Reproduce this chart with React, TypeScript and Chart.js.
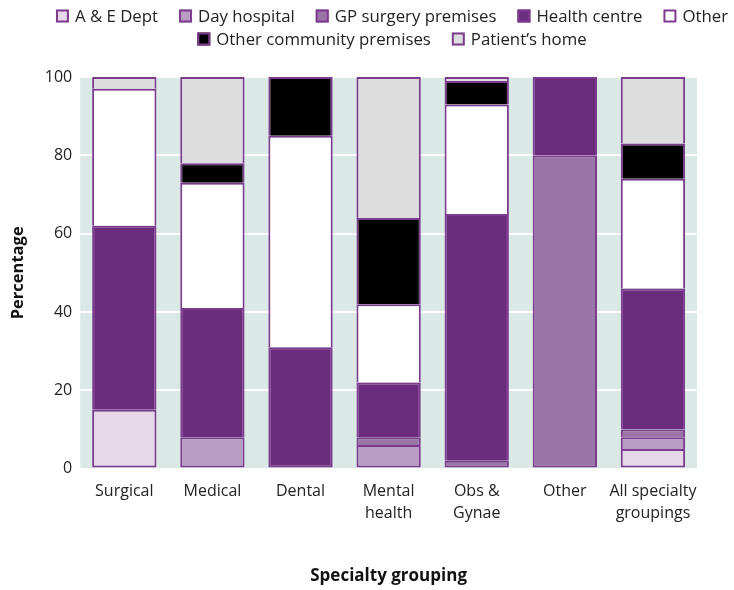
import React, { useEffect, useRef } from "react";
import { Chart, registerables } from "chart.js";

Chart.register(...registerables);

const categories: (string | string[])[] = [
  "Surgical",
  "Medical",
  "Dental",
  ["Mental", "health"],
  ["Obs &", "Gynae"],
  "Other",
  ["All specialty", "groupings"],
];

const seriesNames = [
  "A & E Dept",
  "Day hospital",
  "GP surgery premises",
  "Health centre",
  "Other",
  "Other community premises",
  "Patient\u2019s home",
];

const aeDept = [15, 0, 0, 0, 0, 0, 5];
const dayHospital = [0, 8, 0, 6, 0, 0, 3];
const gpSurgery = [0, 0, 0, 2, 2, 80, 2];
const healthCentre = [47, 33, 31, 14, 63, 20, 36];
const otherPlace = [35, 32, 54, 20, 28, 0, 28];
const otherCommunity = [0, 5, 15, 22, 6, 0, 9];
const patientsHome = [3, 22, 0, 36, 1, 0, 17];

const seriesValues = [aeDept, dayHospital, gpSurgery, healthCentre, otherPlace, otherCommunity, patientsHome];
const seriesColors = ["#e6d8e9", "#b99dc4", "#9b75a8", "#6c2c7d", "#ffffff", "#000000", "#dddddd"];
const legendRows = [[0, 1, 2, 3, 4], [5, 6]];

const yTicks = [0, 20, 40, 60, 80, 100];

const FONT = "'Open Sans', 'DejaVu Sans', sans-serif";
const BORDER = "#7d3b90";

const bgPlugin = {
  id: "plotBg",
  beforeDraw(chart: any) {
    const { ctx, chartArea } = chart;
    if (!chartArea) return;
    ctx.save();
    ctx.fillStyle = "#dbe9e6";
    ctx.fillRect(chartArea.left, chartArea.top, chartArea.right - chartArea.left, chartArea.bottom - chartArea.top);
    ctx.restore();
  },
};

const legendPlugin = {
  id: "customLegend",
  afterDraw(chart: any) {
    const { ctx } = chart;
    const box = 13;
    const textGap = 6;
    const itemGap = 21;
    const centerX = 392;
    const rowY = [16, 39];
    ctx.save();
    ctx.font = `16.8px ${FONT}`;
    ctx.textBaseline = "middle";
    ctx.textAlign = "left";
    legendRows.forEach((row, r) => {
      const widths = row.map((i) => box + textGap + ctx.measureText(seriesNames[i]).width);
      const total = widths.reduce((a, b) => a + b, 0) + itemGap * (row.length - 1);
      let x = centerX - total / 2;
      row.forEach((i, k) => {
        const y = rowY[r];
        ctx.fillStyle = seriesColors[i];
        ctx.fillRect(x, y - box / 2, box, box);
        ctx.strokeStyle = BORDER;
        ctx.lineWidth = 2;
        ctx.strokeRect(x + 1, y - box / 2 + 1, box - 2, box - 2);
        ctx.fillStyle = "#222";
        ctx.fillText(seriesNames[i], x + box + textGap, y + 1);
        x += widths[k] + itemGap;
      });
    });
    ctx.restore();
  },
};

function lowestSeries(index: number): number {
  return seriesValues.findIndex((s) => s[index] > 0);
}

export default function App() {
  const ref = useRef<HTMLCanvasElement | null>(null);

  useEffect(() => {
    document.body.style.margin = "0";
    const canvas = ref.current;
    if (!canvas) return;
    const chart = new Chart(canvas, {
      type: "bar",
      data: {
        labels: categories as any,
        datasets: seriesNames.map((name, i) => ({
          label: name,
          data: seriesValues[i].map((v) => (v === 0 ? null : v)),
          backgroundColor: seriesColors[i],
          borderColor: BORDER,
          borderWidth: (c: any) => ({
            top: 2,
            left: 2,
            right: 2,
            bottom: c.datasetIndex === lowestSeries(c.dataIndex) ? 2 : 0,
          }),
          borderSkipped: false,
          categoryPercentage: 1,
          barPercentage: 0.73,
        })),
      },
      plugins: [bgPlugin, legendPlugin],
      options: {
        animation: false,
        responsive: false,
        maintainAspectRatio: false,
        layout: { padding: { left: 8, right: 37, top: 77, bottom: 4 } },
        plugins: {
          legend: { display: false },
          tooltip: { enabled: false },
        },
        scales: {
          x: {
            stacked: true,
            grid: { display: false },
            border: { display: false },
            ticks: {
              color: "#222",
              font: { family: FONT, size: 16, lineHeight: 1.375 },
              padding: 4,
              maxRotation: 0,
              minRotation: 0,
              autoSkip: false,
            },
            title: {
              display: true,
              text: "Specialty grouping",
              color: "#111",
              font: { family: FONT, size: 17, weight: "bold" },
              padding: { top: 37, bottom: 0 },
            },
          },
          y: {
            stacked: true,
            min: 0,
            max: 100,
            afterBuildTicks: (axis: any) => {
              axis.ticks = yTicks.map((v) => ({ value: v }));
            },
            grid: { color: "#ffffff", lineWidth: 2, drawTicks: false },
            border: { display: false },
            ticks: { color: "#222", font: { family: FONT, size: 16 }, padding: 8 },
            title: {
              display: true,
              text: "Percentage",
              color: "#111",
              font: { family: FONT, size: 16.5, weight: "bold" },
              padding: { top: 0, bottom: 9 },
            },
          },
        },
      },
    });
    return () => chart.destroy();
  }, []);

  return (
    <div style={{ width: 734, height: 590 }}>
      <canvas ref={ref} width={734} height={590} style={{ display: "block" }} />
    </div>
  );
}
